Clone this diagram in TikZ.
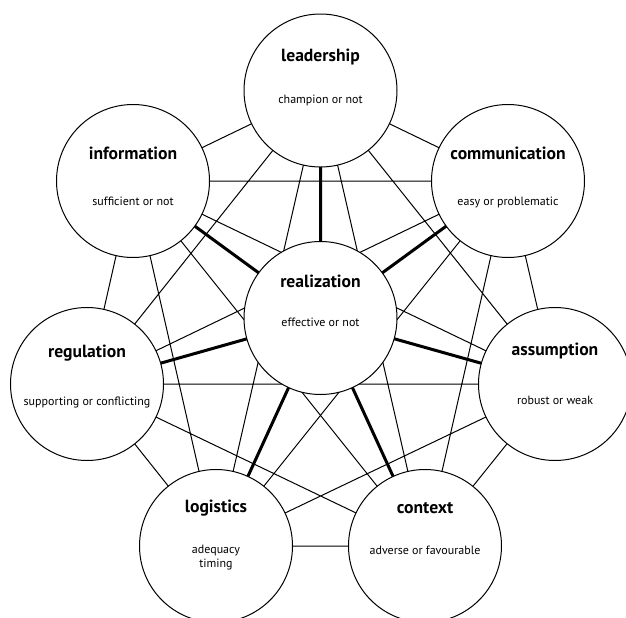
\documentclass[tikz,border=0pt]{standalone}
\usepackage{fontspec}
\setmainfont{PT Sans}
\usetikzlibrary{backgrounds}

\tikzset{every picture/.style={line width=0.75pt}}
\tikzset{
	factor/.style={circle, draw, fill=white, minimum size=114.75pt, inner sep=0pt},
	title/.style={font=\bfseries\fontsize{13.2}{15}\selectfont, inner sep=0.75pt},
	note/.style={font=\fontsize{9}{11}\selectfont, inner sep=0.75pt, align=center},
	link/.style={line width=0.75pt},
	spoke/.style={line width=2.25pt},
}

\begin{document}
\begin{tikzpicture}[x=0.75pt,y=0.75pt,yscale=-1,xscale=1]
	\useasboundingbox (0,0) rectangle (626,618);
	
	% the seven factors round the middle one
	\node[factor] (leadership) at (320.5,90.5) {};
	\node[factor] (information) at (133,181) {};
	\node[factor] (communication) at (508,181) {};
	\node[factor] (regulation) at (87,384) {};
	\node[factor] (assumption) at (555,384) {};
	\node[factor] (logistics) at (216,546) {};
	\node[factor] (context) at (425,546) {};
	\node[factor] (realization) at (320.5,318) {};
	
	% every factor linked with every other one, under the circles
	\begin{scope}[on background layer]
		\draw[link] (leadership.center) -- (information.center)
		(leadership.center) -- (communication.center)
		(leadership.center) -- (regulation.center)
		(leadership.center) -- (assumption.center)
		(leadership.center) -- (logistics.center)
		(leadership.center) -- (context.center)
		(information.center) -- (communication.center)
		(information.center) -- (regulation.center)
		(information.center) -- (assumption.center)
		(information.center) -- (logistics.center)
		(information.center) -- (context.center)
		(communication.center) -- (regulation.center)
		(communication.center) -- (assumption.center)
		(communication.center) -- (logistics.center)
		(communication.center) -- (context.center)
		(regulation.center) -- (assumption.center)
		(regulation.center) -- (logistics.center)
		(regulation.center) -- (context.center)
		(assumption.center) -- (logistics.center)
		(assumption.center) -- (context.center)
		(logistics.center) -- (context.center);
		
		% heavy spokes out of realization
		\draw[spoke] (realization.center) -- (leadership.center)
		(realization.center) -- (information.center)
		(realization.center) -- (communication.center)
		(realization.center) -- (regulation.center)
		(realization.center) -- (assumption.center)
		(realization.center) -- (logistics.center)
		(realization.center) -- (context.center);
	\end{scope}
	
	\node[title] (leadership-title) at (320.5,57) {leadership};
	\node[note] (leadership-note) at (320.5,100) {champion or not};
	\node[title] (information-title) at (133,153) {information};
	\node[note] (information-note) at (133,201) {sufficient or not};
	\node[title] (communication-title) at (508,153.5) {communication};
	\node[note] (communication-note) at (508,202) {easy or problematic};
	\node[title] (realization-title) at (320.5,281) {realization};
	\node[note] (realization-note) at (320.5,322.5) {effective or not};
	\node[title] (regulation-title) at (87,353) {regulation};
	\node[note] (regulation-note) at (87,402) {supporting or conflicting};
	\node[title] (assumption-title) at (555,351) {assumption};
	\node[note] (assumption-note) at (555,400) {robust or weak};
	\node[title] (logistics-title) at (216,508) {logistics};
	\node[note] (logistics-note) at (216,557.5) {adequacy\\timing};
	\node[title] (context-title) at (425,508.5) {context};
	\node[note] (context-note) at (425,550) {adverse or favourable};
	
\end{tikzpicture}
\end{document}
